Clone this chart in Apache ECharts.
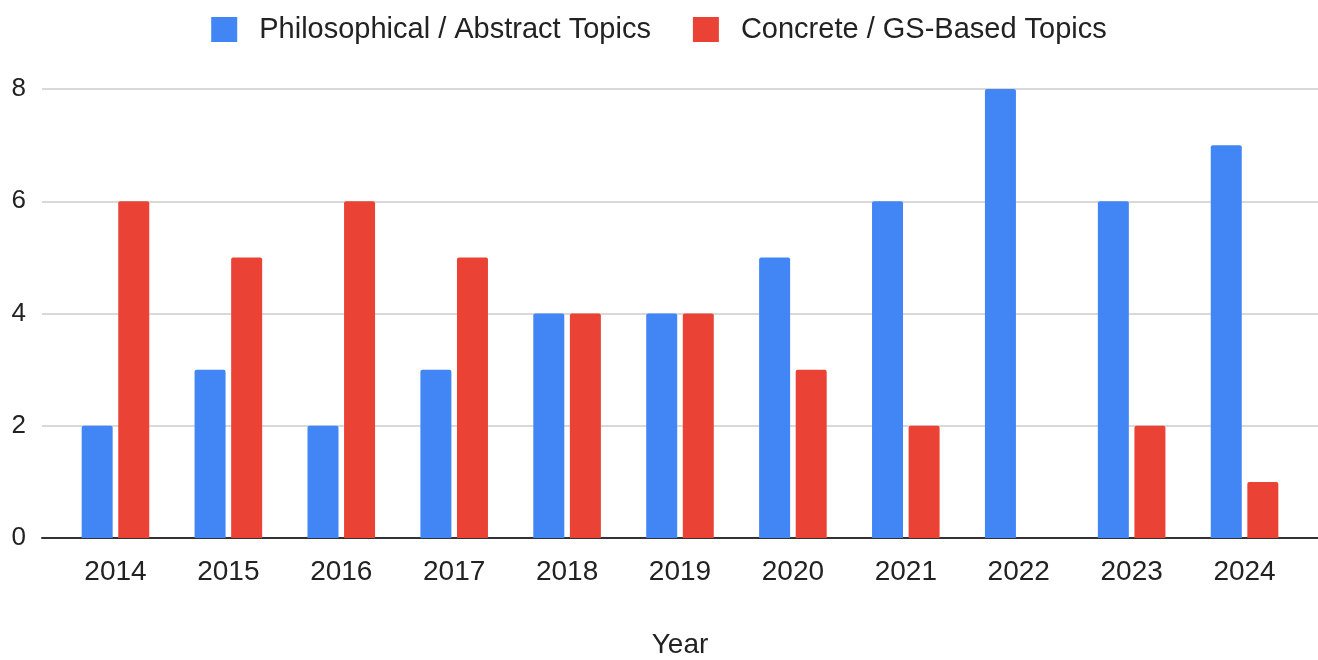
<!DOCTYPE html>
<html>
<head>
    <meta charset="utf-8">
    <title>Topics by year</title>
    <script src="https://cdn.jsdelivr.net/npm/echarts@6/dist/echarts.min.js"></script>
    <style>
        html, body { margin: 0; padding: 0; background: #fff; }
        #main { width: 1318px; height: 660px; }
    </style>
</head>
<body>
<div id="main"></div>
<script>
    // ---- data ----
    var years = ['2014', '2015', '2016', '2017', '2018', '2019', '2020', '2021', '2022', '2023', '2024'];
    var abstractTopics = [2, 3, 2, 3, 4, 4, 5, 6, 8, 6, 7];
    var concreteTopics = [6, 5, 6, 5, 4, 4, 3, 2, 0, 2, 1];
    var yTicks = [0, 2, 4, 6, 8];

    var font = '"Liberation Sans", Arial, sans-serif';
    var chart = echarts.init(document.getElementById('main'));

    var option = {
        animation: false,
        textStyle: { fontFamily: font },
        legend: {
            top: 10,
            left: 'center',
            itemWidth: 26,
            itemHeight: 25,
            itemGap: 42,
            icon: 'rect',
            textStyle: { fontSize: 29, color: '#222', fontFamily: font, padding: [0, 0, 0, 17] },
            data: ['Philosophical / Abstract Topics', 'Concrete / GS-Based Topics']
        },
        // grid 0 carries the full-width gridlines and baseline, grid 1 the bars
        grid: [
            { left: 42, right: 0, top: 89, bottom: 122, outerBoundsMode: 'none' },
            { left: 59, right: 17, top: 89, bottom: 122, outerBoundsMode: 'none' }
        ],
        xAxis: [
            {
                gridIndex: 0,
                type: 'category',
                data: [''],
                axisLine: { show: true, lineStyle: { color: '#333', width: 2 } },
                axisTick: { show: false },
                axisLabel: { show: false }
            },
            {
                gridIndex: 1,
                type: 'category',
                data: years,
                axisLine: { show: false },
                axisTick: { show: false },
                axisLabel: { fontSize: 28, color: '#222', margin: 20 },
                name: 'Year',
                nameLocation: 'middle',
                nameGap: 93,
                nameTextStyle: { fontSize: 28, color: '#222' }
            }
        ],
        yAxis: [
            {
                gridIndex: 0,
                type: 'value',
                min: yTicks[0],
                max: yTicks[yTicks.length - 1],
                interval: 2,
                axisLine: { show: false },
                axisTick: { show: false },
                axisLabel: { fontSize: 26, color: '#222', margin: 16 },
                splitLine: { lineStyle: { color: '#cccccc', width: 1.5 } }
            },
            {
                gridIndex: 1,
                type: 'value',
                min: yTicks[0],
                max: yTicks[yTicks.length - 1],
                show: false,
                splitLine: { show: false }
            }
        ],
        series: [
            {
                name: 'Philosophical / Abstract Topics',
                type: 'bar',
                xAxisIndex: 1,
                yAxisIndex: 1,
                data: abstractTopics,
                barWidth: 31,
                barGap: '18%',
                itemStyle: { color: '#4285F4', borderRadius: [2, 2, 0, 0] }
            },
            {
                name: 'Concrete / GS-Based Topics',
                type: 'bar',
                xAxisIndex: 1,
                yAxisIndex: 1,
                data: concreteTopics,
                barWidth: 31,
                barGap: '18%',
                itemStyle: { color: '#EA4335', borderRadius: [2, 2, 0, 0] }
            }
        ]
    };

    chart.setOption(option);
</script>
</body>
</html>
